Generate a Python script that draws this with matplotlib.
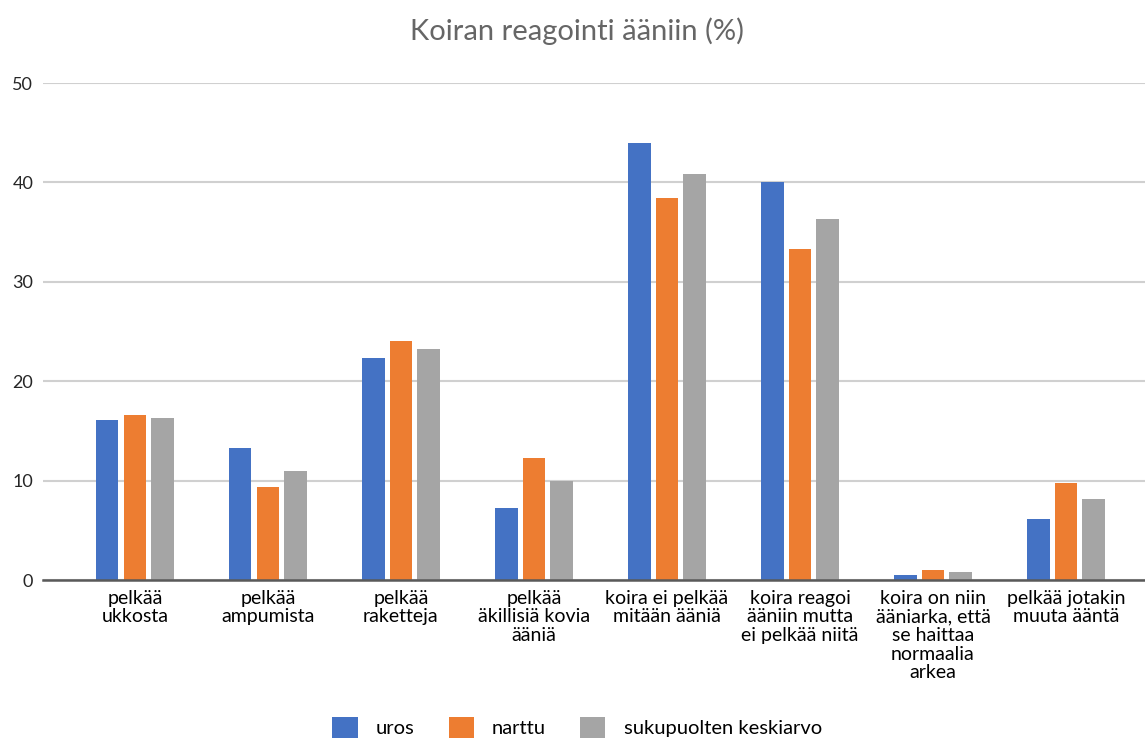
import numpy as np
import matplotlib
matplotlib.use("Agg")
import matplotlib.pyplot as plt

plt.rcParams['font.family'] = ['Lato', 'DejaVu Sans']

# Data
categories = [
    "pelkää\nukkosta",
    "pelkää\nampumista",
    "pelkää\nraketteja",
    "pelkää\näkillisiä kovia\nääniä",
    "koira ei pelkää\nmitään ääniä",
    "koira reagoi\nääniin mutta\nei pelkää niitä",
    "koira on niin\nääniarka, että\nse haittaa\nnormaalia\narkea",
    "pelkää jotakin\nmuuta ääntä",
]
uros = [16.1, 13.3, 22.3, 7.2, 44.0, 40.0, 0.5, 6.1]
narttu = [16.6, 9.4, 24.0, 12.3, 38.4, 33.3, 1.0, 9.8]
keskiarvo = [16.3, 11.0, 23.2, 10.0, 40.8, 36.3, 0.8, 8.2]
series_names = ["uros", "narttu", "sukupuolten keskiarvo"]
colors = ["#4472C4", "#ED7D31", "#A5A5A5"]

fig = plt.figure(figsize=(11.45, 7.46), dpi=100)
ax = fig.add_axes([0.0376, 0.2225, 0.9624, 0.6662])

x = np.arange(len(categories))
step = 0.208
width = 0.17
for i, (vals, name, c) in enumerate(zip([uros, narttu, keskiarvo], series_names, colors)):
    ax.bar(x + (i - 1) * step, vals, width, color=c, label=name, zorder=3)

ax.set_ylim(0, 50)
ax.set_xlim(-0.69, 7.594)
ax.set_yticks(range(0, 51, 10))
ax.set_xticks(x)
ax.set_xticklabels(categories, fontsize=14, linespacing=1.12)
ax.tick_params(axis='y', length=0, pad=7, labelsize=13, labelcolor="#262626")
ax.tick_params(axis='x', length=0, pad=7, labelcolor="#000000")
ax.grid(axis='y', color="#D0D0D0", linewidth=1.5, zorder=0)
for s in ["top", "right", "left"]:
    ax.spines[s].set_visible(False)
ax.spines["bottom"].set_color("#595959")
ax.spines["bottom"].set_linewidth(1.8)
ax.spines["bottom"].set_zorder(4)

fig.text(0.504, 0.958, "Koiran reagointi ääniin (%)", ha="center", va="center",
         fontsize=21, color="#666666")

fig.legend(loc="lower center", bbox_to_anchor=(0.504, -0.014), ncol=3, frameon=False,
           fontsize=14.5, handlelength=1.25, handleheight=1.25, columnspacing=1.7,
           handletextpad=0.9)

plt.savefig("out.png", dpi=100)
